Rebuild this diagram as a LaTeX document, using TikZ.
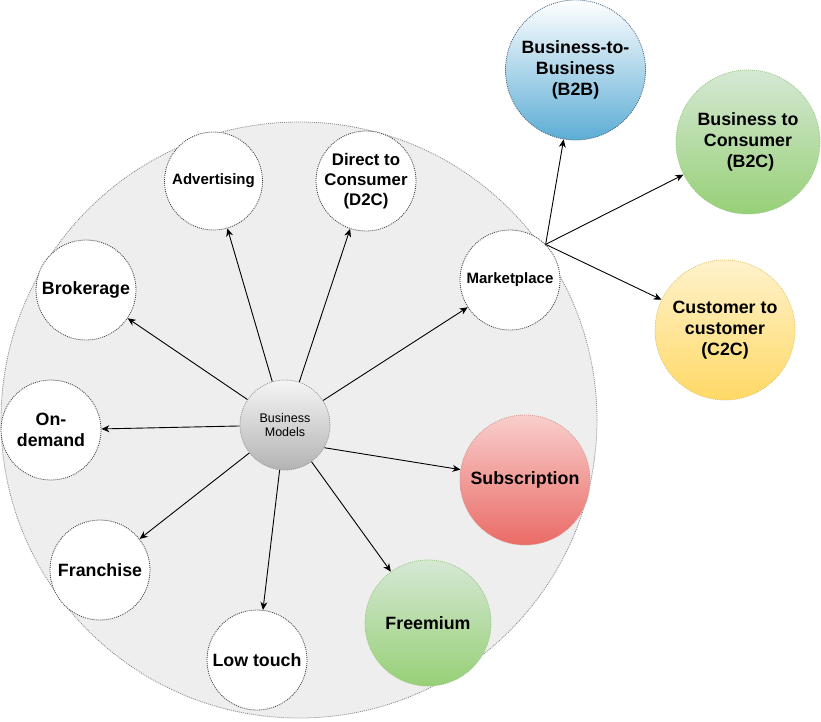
\documentclass[tikz,border=0pt]{standalone}
\usepackage{fontspec}
\setmainfont{Liberation Sans}
\usetikzlibrary{arrows.meta}
\definecolor{bigfill}{HTML}{EEEEEE}
\definecolor{bigline}{HTML}{8A8A8A}
\definecolor{wline}{HTML}{444444}
\definecolor{bmtop}{HTML}{F5F5F5}
\definecolor{bmbot}{HTML}{B3B3B3}
\definecolor{bmline}{HTML}{999999}
\definecolor{bluetop}{HTML}{FFFFFF}
\definecolor{bluebot}{HTML}{5DADD5}
\definecolor{blueline}{HTML}{4A6A80}
\definecolor{greentop}{HTML}{D5E8D4}
\definecolor{greenbot}{HTML}{97D077}
\definecolor{greenline}{HTML}{9CC98A}
\definecolor{yeltop}{HTML}{FFF2CC}
\definecolor{yelbot}{HTML}{FFD966}
\definecolor{yelline}{HTML}{E0C870}
\definecolor{redtop}{HTML}{F8CECC}
\definecolor{redbot}{HTML}{EA6B66}
\definecolor{redline}{HTML}{D49A98}
\tikzset{
  x=1pt, y=-1pt,
  dotline/.style={dash pattern=on 1pt off 1pt, line width=0.8pt},
  circ/.style={circle, inner sep=0pt, minimum size=#1, dotline},
  wcirc/.style={circ=#1, draw=wline, fill=white},
  bigtxt/.style={align=center, font=\fontsize{17.8}{21}\selectfont\bfseries, text=black},
  midtxt/.style={align=center, font=\fontsize{16.8}{20}\selectfont\bfseries, text=black},
  smtxt/.style={align=center, font=\fontsize{15}{18}\selectfont\bfseries, text=black},
  bmtxt/.style={align=center, font=\fontsize{12.5}{14.5}\selectfont, text=black},
  arr/.style={-{Stealth[length=8pt,width=7pt,inset=2.5pt]}, line width=0.9pt, black},
}
\begin{document}
\begin{tikzpicture}
\useasboundingbox (0,0) rectangle (821,721);
% big background circle
\node[circ=596pt, draw=bigline, fill=bigfill] (big) at (299,420) {};
% inner nodes
\node[wcirc=98pt, label={[smtxt]center:Advertising}] (adv) at (213.5,181) {};
\node[wcirc=100pt, label={[midtxt]center:Direct to\\Consumer\\(D2C)}] (d2c) at (366,181) {};
\node[wcirc=100pt, label={[bigtxt]center:Brokerage}] (brk) at (86,290) {};
\node[wcirc=100pt, label={[smtxt]center:Marketplace}] (mp) at (510,280) {};
\node[wcirc=100pt, label={[bigtxt]center:On-\\demand}] (ond) at (51,430) {};
\node[wcirc=100pt, label={[bigtxt]center:Franchise}] (fra) at (100,570) {};
\node[wcirc=100pt, label={[bigtxt]center:Low touch}] (low) at (257,660) {};
\node[circ=126pt, draw=greenline, top color=greentop, bottom color=greenbot,
      label={[bigtxt]center:Freemium}] (fre) at (428,623) {};
\node[circ=130pt, draw=redline, top color=redtop, bottom color=redbot,
      label={[bigtxt]center:Subscription}] (sub) at (525,480) {};
\node[circ=90pt, draw=bmline, top color=bmtop, bottom color=bmbot,
      label={[bmtxt]center:Business\\Models}] (bm) at (285,425) {};
% outer nodes
\node[circ=140pt, draw=blueline, top color=bluetop, bottom color=bluebot,
      label={[bigtxt]center:Business-to-\\Business\\(B2B)}] (b2b) at (575.5,70) {};
\node[circ=144pt, draw=greenline, top color=greentop, bottom color=greenbot,
      label={[bigtxt]center:Business to\\Consumer\\~(B2C)}] (b2c) at (748,142) {};
\node[circ=140pt, draw=yelline, top color=yeltop, bottom color=yelbot,
      label={[bigtxt]center:Customer to\\customer\\(C2C)}] (c2c) at (725,330) {};
% connectors
\draw[arr] (bm) -- (adv);
\draw[arr] (bm) -- (d2c);
\draw[arr] (bm) -- (brk);
\draw[arr] (bm) -- (mp);
\draw[arr] (bm) -- (ond);
\draw[arr] (bm) -- (fra);
\draw[arr] (bm) -- (low);
\draw[arr] (bm) -- (fre);
\draw[arr] (bm.330) -- (sub);
\draw[arr] (mp.45) -- (b2b);
\draw[arr] (mp.45) -- (b2c);
\draw[arr] (mp.45) -- (c2c);
\end{tikzpicture}
\end{document}
